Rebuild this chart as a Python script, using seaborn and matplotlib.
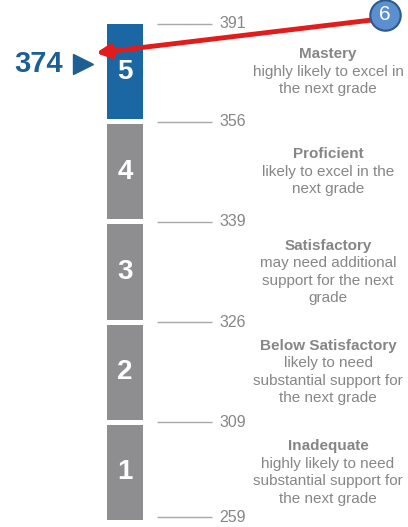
import numpy as np
import pandas as pd
import matplotlib.pyplot as plt
import seaborn as sns

# performance levels, bottom to top
levels = [1, 2, 3, 4, 5]
level_names = ["Inadequate", "Below Satisfactory", "Satisfactory", "Proficient", "Mastery"]
level_desc = [
    ["highly likely to need", "substantial support for", "the next grade"],
    ["likely to need", "substantial support for", "the next grade"],
    ["may need additional", "support for the next", "grade"],
    ["likely to excel in the", "next grade"],
    ["highly likely to excel in", "the next grade"],
]
cut_scores = [259, 309, 326, 339, 356, 391]
student_score = 374
student_level = 5
grade = 6

BLUE = "#1b67a3"
GRAY = "#8e8e90"
TXT = "#868686"
GAP = 0.025

sns.set_theme(style="white")
plt.rcParams["font.family"] = ["Liberation Sans", "DejaVu Sans"]

fig = plt.figure(figsize=(4.08, 5.27), dpi=100)
ax = fig.add_axes([0, 0, 1, 1])

# one segment per level, equal height
for lv in levels:
    df = pd.DataFrame({"col": ["s"], "h": [1 - 2 * GAP]})
    sns.barplot(data=df, x="col", y="h", bottom=lv - 1 + GAP, width=0.8,
                color=BLUE if lv == student_level else GRAY, saturation=1,
                ax=ax, errorbar=None, linewidth=0)
    ax.text(0, lv - 0.5, str(lv), ha="center", va="center", color="white",
            fontsize=20, fontweight="bold")

# layout helpers: pixel-ish placement of annotations
def px(x):
    return (x - 125) / 45.0

def py(y):
    return (5 - GAP) - (y - 24) / 100.2

# cut score ticks at segment boundaries
cut_pos = [0.05, 1, 2, 3, 4, 5 - GAP]
ax.hlines(cut_pos, px(157), px(212), color="#a8a8a8", lw=1)
for pos, sc in zip(cut_pos, cut_scores):
    ax.text(px(219), pos, str(sc), ha="left", va="center", color=TXT, fontsize=11.5)

# level descriptions centred on each segment
step = 0.175
for lv, name, desc in zip(levels, level_names, level_desc):
    lines = [name] + desc
    top = lv - 0.5 + (len(lines) - 1) / 2 * step
    for i, line in enumerate(lines):
        ax.text(px(328), top - i * step, line, ha="center", va="center",
                color=TXT, fontsize=11, fontweight="bold" if i == 0 else "normal")

# student score marker
ax.text(px(63), py(64), str(student_score), ha="right", va="center",
        color="#1d5f93", fontsize=21, fontweight="bold")
ax.plot(px(83), py(64), marker=">", markersize=14, color="#1d5f93")

# grade bubble with arrow
ax.annotate("", xy=(px(96), py(53)), xytext=(px(372), py(20)),
            arrowprops=dict(arrowstyle="-|>", color="#e31b1b", lw=3.5,
                            mutation_scale=20, shrinkA=0, shrinkB=0))
ax.scatter(px(385), py(15), s=480, color="#5b8fd0", edgecolor="#2d5a8a",
           linewidth=1.5, zorder=5)
ax.text(px(385), py(15), str(grade), ha="center", va="center", color="white",
        fontsize=15, zorder=6)

ax.set_xlim(px(0), px(408))
ax.set_ylim(py(527), py(0))
ax.axis("off")

fig.savefig("out.png", dpi=100)
